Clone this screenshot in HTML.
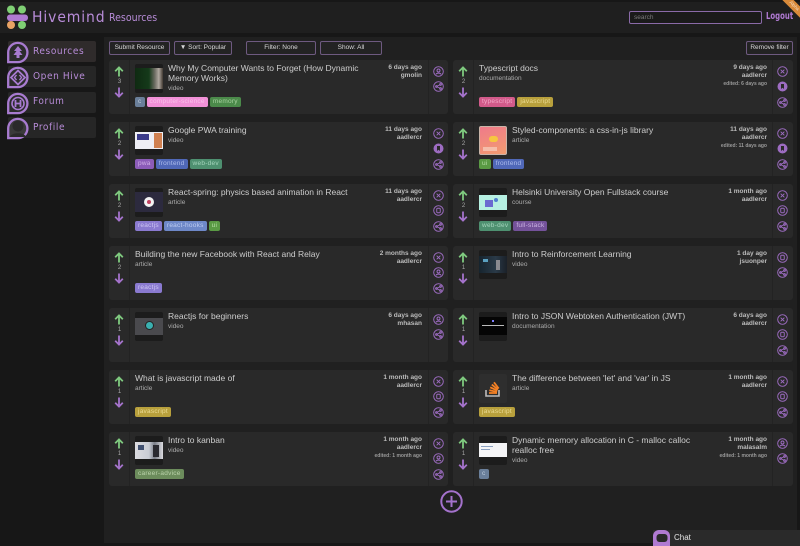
<!DOCTYPE html>
<html><head><meta charset="utf-8">
<style>
*{margin:0;padding:0;box-sizing:border-box}
body{width:800px;height:546px;overflow:hidden;background:#171717;font-family:"Liberation Sans",sans-serif;position:relative}
.a{position:absolute}
.cond{font-family:"DejaVu Sans Condensed","DejaVu Sans",sans-serif}
#hdr{position:absolute;left:0;top:2px;width:800px;height:31px;background:#1f1f1f}
#main{position:absolute;left:104px;top:37px;width:693px;height:506px;background:#202020}
.side{position:absolute;left:8px;width:88px;height:21px;background:#262626;border-radius:2px}
.side.act{background:#2f2b2b}
.slab{position:absolute;left:33px;font-size:10px;letter-spacing:0.6px;color:#b88cd8;line-height:12px}
.sico{position:absolute;left:6px}
.btn{position:absolute;top:41px;height:14px;border:1px solid #6e5a80;background:#232323;border-radius:2px;color:#d8d8d8;font-size:6.5px;line-height:12px;text-align:center;white-space:nowrap}
.card{position:absolute;height:54px;background:#292929;border-radius:3px;overflow:hidden}
.card.L{width:339px}
.card.R{width:340px}
.vote{position:absolute;left:0;top:0;width:21px;height:54px;border-right:1px solid #232323}
.up{position:absolute;left:5px;top:6px}
.dn{position:absolute;left:5px;top:27px}
.num{position:absolute;left:0;width:21px;top:19px;font-size:6px;line-height:6px;text-align:center;color:#a8a8a8}
.acts{position:absolute;top:0;height:54px;left:319px;border-left:1px solid #232323}
.L .acts{width:20px}
.R .acts{width:21px}
.acts svg{position:absolute;left:4px}
.i1{top:5.5px}.i2{top:21px}.i3{top:36.5px}
.thumb{position:absolute;left:26px;top:4px;width:28px;height:29px;background:#1c1c1c;border-radius:2px;overflow:hidden}
.thumb div{position:absolute}
.body{position:absolute;top:4px;white-space:nowrap}
.t{font-size:8.5px;line-height:9.5px;color:#cdcdcd}
.ty{font-size:6.5px;line-height:8px;margin-top:1.5px;color:#ababab}
.meta{position:absolute;right:26px;top:4px;text-align:right;font-size:6.5px;font-weight:bold;line-height:8px;color:#bcbcbc;white-space:nowrap}
.meta .ed{font-size:5px;font-weight:bold;color:#9a9a9a}
.tags{position:absolute;left:26px;top:37px;white-space:nowrap;font-size:0}
.tag{display:inline-block;height:10px;line-height:10px;padding:0 3px;font-size:6.5px;letter-spacing:0.25px;border-radius:2px;margin-right:2px;vertical-align:top}
.c{background:#6a7f9a;color:#bccbdb}
.cs{background:#f291d8;color:#f9c0ea}
.mem{background:#4b8a4a;color:#a8d0a0}
.ts{background:#d25a8a;color:#f2aac9}
.js{background:#b8a03c;color:#ebdb94}
.pwa{background:#8c5cb8;color:#cfaee6}
.fe{background:#5068b8;color:#adbcec}
.wd{background:#4e9070;color:#a4d4bc}
.ui{background:#5a9a44;color:#b4dca4}
.rj{background:#8a7ad0;color:#cdc4f2}
.rh{background:#6e88c8;color:#bccbf0}
.fs{background:#74529a;color:#cbb3e2}
.ca{background:#6c8c5c;color:#bad2aa}
</style></head><body>

<div id="hdr"></div>
<!-- logo -->
<svg class="a" style="left:0;top:0" width="32" height="33" viewBox="0 0 32 33">
<circle cx="11" cy="9.5" r="4" fill="#7fcf74"/>
<circle cx="22" cy="9.5" r="4" fill="#7fcf74"/>
<rect x="7" y="14.5" width="21" height="6.5" rx="3" fill="#b07ad2"/>
<circle cx="11" cy="25" r="4" fill="#e8a264"/>
<circle cx="22" cy="25" r="4" fill="#7fcf74"/>
</svg>
<div class="a cond" style="left:32px;top:7px;font-size:15.5px;line-height:20px;color:#b88cd8;letter-spacing:0.9px">Hivemind</div>
<div class="a cond" style="left:109px;top:11px;font-size:10.5px;line-height:14px;color:#b88cd8">Resources</div>
<div class="a" style="left:629px;top:11px;width:133px;height:13px;border:1px solid #8a6aa8;border-radius:2px;background:#1a1a1a;font-size:6.5px;line-height:11px;color:#7a7a7a;padding-left:4px">search</div>
<div class="a cond" style="left:766px;top:10px;font-size:10px;line-height:14px;color:#b07ad2;font-weight:bold;transform:scaleX(0.77);transform-origin:0 0;white-space:nowrap">Logout</div>
<div class="a" style="left:774px;top:2px;width:40px;height:8px;background:#d98a3a;transform:rotate(45deg);font-size:4.5px;line-height:8px;text-align:center;color:#f6dcc0">Alpha</div>

<!-- sidebar -->
<div class="side act" style="top:41px"></div>
<div class="side" style="top:66px"></div>
<div class="side" style="top:92px"></div>
<div class="side" style="top:117px"></div>

<svg class="sico" style="top:41px" width="24" height="23" viewBox="0 0 24 23"><path d="M2.2 11.5A9.6 9.6 0 1 1 11.8 21.1L2.2 21.1Z" fill="#2c2c2c" stroke="#a87bd0" stroke-width="2.3"/><path d="M12 5L8 10h2.5L7.5 14h3v3h3v-3h3L13.5 10H16Z" fill="#a87bd0"/></svg>
<svg class="sico" style="top:66px" width="24" height="23" viewBox="0 0 24 23"><path d="M2.2 11.5A9.6 9.6 0 1 1 11.8 21.1L2.2 21.1Z" fill="#2c2c2c" stroke="#a87bd0" stroke-width="2.3"/><path d="M12 4.5L19 11.5L12 18.5L5 11.5Z" fill="none" stroke="#a87bd0" stroke-width="1.8"/><path d="M10.5 9L8.5 11.5L10.5 14M13.5 9L15.5 11.5L13.5 14" fill="none" stroke="#a87bd0" stroke-width="1.4"/></svg>
<svg class="sico" style="top:92px" width="24" height="23" viewBox="0 0 24 23"><path d="M2.2 11.5A9.6 9.6 0 1 1 11.8 21.1L2.2 21.1Z" fill="#2c2c2c" stroke="#a87bd0" stroke-width="2.3"/><circle cx="12" cy="11.5" r="6" fill="none" stroke="#a87bd0" stroke-width="1.6"/><path d="M9.5 8v7M14.5 8v7M9.5 11.5h5" stroke="#a87bd0" stroke-width="1.8"/></svg>
<svg class="sico" style="top:117px" width="24" height="23" viewBox="0 0 24 23"><path d="M2.2 11.5A9.6 9.6 0 1 1 11.8 21.1L2.2 21.1Z" fill="#3a3a3a" stroke="#a87bd0" stroke-width="2.3"/><circle cx="12" cy="9" r="5.5" fill="#2a2a2a"/><path d="M4 20c1-5 15-5 16 0Z" fill="#2a2a2a"/></svg>

<div class="slab cond" style="top:46px">Resources</div>
<div class="slab cond" style="top:71px">Open Hive</div>
<div class="slab cond" style="top:96px">Forum</div>
<div class="slab cond" style="top:122px">Profile</div>

<!-- main -->
<div id="main"></div>
<div class="btn" style="left:109px;width:61px">Submit Resource</div>
<div class="btn" style="left:174px;width:58px">▼ Sort: Popular</div>
<div class="btn" style="left:246px;width:70px">Filter: None</div>
<div class="btn" style="left:320px;width:62px">Show: All</div>
<div class="btn" style="left:746px;width:47px">Remove filter</div>

<!-- Row 1 -->
<div class="card L" style="left:109px;top:60px">
 <div class="vote"><svg class="up" width="10" height="11" viewBox="0 0 10 11"><path d="M5 10.5V1.5M1.2 5.2L5 1.4L8.8 5.2" stroke="#7fca7f" stroke-width="1.8" fill="none"/></svg><div class="num">3</div><svg class="dn" width="10" height="11" viewBox="0 0 10 11"><path d="M5 0.5V9.5M1.2 5.8L5 9.6L8.8 5.8" stroke="#a573cc" stroke-width="1.8" fill="none"/></svg></div>
 <div class="thumb"><div style="left:0;top:4px;width:28px;height:21px;background:linear-gradient(90deg,#0f2a12 0%,#153a1a 50%,#6a6a60 70%,#b0a8a0 85%,#403830 100%)"></div></div>
 <div class="body" style="left:59px"><div class="t">Why My Computer Wants to Forget (How Dynamic<br>Memory Works)</div><div class="ty">video</div></div>
 <div class="meta">6 days ago<br>gmolin</div>
 <div class="tags"><span class="tag c">c</span><span class="tag cs">computer-science</span><span class="tag mem">memory</span></div>
 <div class="acts">
  <svg class="i1" width="11" height="11" viewBox="0 0 22 22"><g fill="none" stroke="#9d6cc2" stroke-width="1.9"><circle cx="11" cy="11" r="9.6"/><circle cx="11" cy="9" r="3"/><path d="M6 16.5c1.5-3 8.5-3 10 0"/></g></svg>
  <svg class="i2" width="11" height="11" viewBox="0 0 22 22"><g fill="none" stroke="#9d6cc2" stroke-width="1.9"><circle cx="11" cy="11" r="9.6"/><circle cx="7" cy="11" r="1.8"/><circle cx="15" cy="7" r="1.8"/><circle cx="15" cy="15" r="1.8"/><path d="M7 11L15 7M7 11L15 15"/></g></svg>
 </div>
</div>

<div class="card R" style="left:453px;top:60px">
 <div class="vote"><svg class="up" width="10" height="11" viewBox="0 0 10 11"><path d="M5 10.5V1.5M1.2 5.2L5 1.4L8.8 5.2" stroke="#7fca7f" stroke-width="1.8" fill="none"/></svg><div class="num">2</div><svg class="dn" width="10" height="11" viewBox="0 0 10 11"><path d="M5 0.5V9.5M1.2 5.8L5 9.6L8.8 5.8" stroke="#a573cc" stroke-width="1.8" fill="none"/></svg></div>
 <div class="body" style="left:26px"><div class="t">Typescript docs</div><div class="ty">documentation</div></div>
 <div class="meta">9 days ago<br>aadlercr<br><span class="ed">edited: 6 days ago</span></div>
 <div class="tags"><span class="tag ts">typescript</span><span class="tag js">javascript</span></div>
 <div class="acts">
  <svg class="i1" width="11" height="11" viewBox="0 0 22 22"><g fill="none" stroke="#9d6cc2" stroke-width="1.9"><circle cx="11" cy="11" r="9.6"/><path d="M7.3 7.3L14.7 14.7M14.7 7.3L7.3 14.7"/></g></svg>
  <svg class="i2" width="11" height="11" viewBox="0 0 22 22"><circle cx="11" cy="11" r="10" fill="#9d6cc2"/><path d="M8 6h6v10l-3-2.5L8 16Z" fill="#2a2a2a"/></svg>
  <svg class="i3" width="11" height="11" viewBox="0 0 22 22"><g fill="none" stroke="#9d6cc2" stroke-width="1.9"><circle cx="11" cy="11" r="9.6"/><circle cx="7" cy="11" r="1.8"/><circle cx="15" cy="7" r="1.8"/><circle cx="15" cy="15" r="1.8"/><path d="M7 11L15 7M7 11L15 15"/></g></svg>
 </div>
</div>

<!-- Row 2 -->
<div class="card L" style="left:109px;top:122px">
 <div class="vote"><svg class="up" width="10" height="11" viewBox="0 0 10 11"><path d="M5 10.5V1.5M1.2 5.2L5 1.4L8.8 5.2" stroke="#7fca7f" stroke-width="1.8" fill="none"/></svg><div class="num">2</div><svg class="dn" width="10" height="11" viewBox="0 0 10 11"><path d="M5 0.5V9.5M1.2 5.8L5 9.6L8.8 5.8" stroke="#a573cc" stroke-width="1.8" fill="none"/></svg></div>
 <div class="thumb"><div style="left:0;top:6px;width:28px;height:17px;background:#eeeef4"></div><div style="left:2px;top:8px;width:12px;height:6px;background:#3a3a8a"></div><div style="left:19px;top:7px;width:8px;height:15px;background:#d08050"></div></div>
 <div class="body" style="left:59px"><div class="t">Google PWA training</div><div class="ty">video</div></div>
 <div class="meta">11 days ago<br>aadlercr</div>
 <div class="tags"><span class="tag pwa">pwa</span><span class="tag fe">frontend</span><span class="tag wd">web-dev</span></div>
 <div class="acts">
  <svg class="i1" width="11" height="11" viewBox="0 0 22 22"><g fill="none" stroke="#9d6cc2" stroke-width="1.9"><circle cx="11" cy="11" r="9.6"/><path d="M7.3 7.3L14.7 14.7M14.7 7.3L7.3 14.7"/></g></svg>
  <svg class="i2" width="11" height="11" viewBox="0 0 22 22"><circle cx="11" cy="11" r="10" fill="#9d6cc2"/><path d="M8 6h6v10l-3-2.5L8 16Z" fill="#2a2a2a"/></svg>
  <svg class="i3" width="11" height="11" viewBox="0 0 22 22"><g fill="none" stroke="#9d6cc2" stroke-width="1.9"><circle cx="11" cy="11" r="9.6"/><circle cx="7" cy="11" r="1.8"/><circle cx="15" cy="7" r="1.8"/><circle cx="15" cy="15" r="1.8"/><path d="M7 11L15 7M7 11L15 15"/></g></svg>
 </div>
</div>

<div class="card R" style="left:453px;top:122px">
 <div class="vote"><svg class="up" width="10" height="11" viewBox="0 0 10 11"><path d="M5 10.5V1.5M1.2 5.2L5 1.4L8.8 5.2" stroke="#7fca7f" stroke-width="1.8" fill="none"/></svg><div class="num">2</div><svg class="dn" width="10" height="11" viewBox="0 0 10 11"><path d="M5 0.5V9.5M1.2 5.8L5 9.6L8.8 5.8" stroke="#a573cc" stroke-width="1.8" fill="none"/></svg></div>
 <div class="thumb" style="background:linear-gradient(160deg,#f07a8a,#f29c70);border:1px solid #c9b4a8"><div style="left:9px;top:9px;width:9px;height:6px;background:#f6c640;border-radius:4px"></div><div style="left:3px;top:20px;width:14px;height:4px;background:#f7d0c0;opacity:.7"></div></div>
 <div class="body" style="left:59px"><div class="t">Styled-components: a css-in-js library</div><div class="ty">article</div></div>
 <div class="meta">11 days ago<br>aadlercr<br><span class="ed">edited: 11 days ago</span></div>
 <div class="tags"><span class="tag ui">ui</span><span class="tag fe">frontend</span></div>
 <div class="acts">
  <svg class="i1" width="11" height="11" viewBox="0 0 22 22"><g fill="none" stroke="#9d6cc2" stroke-width="1.9"><circle cx="11" cy="11" r="9.6"/><path d="M7.3 7.3L14.7 14.7M14.7 7.3L7.3 14.7"/></g></svg>
  <svg class="i2" width="11" height="11" viewBox="0 0 22 22"><circle cx="11" cy="11" r="10" fill="#9d6cc2"/><path d="M8 6h6v10l-3-2.5L8 16Z" fill="#2a2a2a"/></svg>
  <svg class="i3" width="11" height="11" viewBox="0 0 22 22"><g fill="none" stroke="#9d6cc2" stroke-width="1.9"><circle cx="11" cy="11" r="9.6"/><circle cx="7" cy="11" r="1.8"/><circle cx="15" cy="7" r="1.8"/><circle cx="15" cy="15" r="1.8"/><path d="M7 11L15 7M7 11L15 15"/></g></svg>
 </div>
</div>

<!-- Row 3 -->
<div class="card L" style="left:109px;top:184px">
 <div class="vote"><svg class="up" width="10" height="11" viewBox="0 0 10 11"><path d="M5 10.5V1.5M1.2 5.2L5 1.4L8.8 5.2" stroke="#7fca7f" stroke-width="1.8" fill="none"/></svg><div class="num">2</div><svg class="dn" width="10" height="11" viewBox="0 0 10 11"><path d="M5 0.5V9.5M1.2 5.8L5 9.6L8.8 5.8" stroke="#a573cc" stroke-width="1.8" fill="none"/></svg></div>
 <div class="thumb"><div style="left:0;top:4px;width:28px;height:20px;background:#2c2a3e"></div><div style="left:9px;top:9px;width:10px;height:10px;background:#f2f2f2;border-radius:50%"></div><div style="left:12px;top:12px;width:4px;height:4px;background:#c04060;border-radius:50%"></div></div>
 <div class="body" style="left:59px"><div class="t">React-spring: physics based animation in React</div><div class="ty">article</div></div>
 <div class="meta">11 days ago<br>aadlercr</div>
 <div class="tags"><span class="tag rj">reactjs</span><span class="tag rh">react-hooks</span><span class="tag ui">ui</span></div>
 <div class="acts">
  <svg class="i1" width="11" height="11" viewBox="0 0 22 22"><g fill="none" stroke="#9d6cc2" stroke-width="1.9"><circle cx="11" cy="11" r="9.6"/><path d="M7.3 7.3L14.7 14.7M14.7 7.3L7.3 14.7"/></g></svg>
  <svg class="i2" width="11" height="11" viewBox="0 0 22 22"><g fill="none" stroke="#9d6cc2" stroke-width="1.9"><circle cx="11" cy="11" r="9.6"/><rect x="7.5" y="6.5" width="7" height="9" rx="1.5"/></g></svg>
  <svg class="i3" width="11" height="11" viewBox="0 0 22 22"><g fill="none" stroke="#9d6cc2" stroke-width="1.9"><circle cx="11" cy="11" r="9.6"/><circle cx="7" cy="11" r="1.8"/><circle cx="15" cy="7" r="1.8"/><circle cx="15" cy="15" r="1.8"/><path d="M7 11L15 7M7 11L15 15"/></g></svg>
 </div>
</div>

<div class="card R" style="left:453px;top:184px">
 <div class="vote"><svg class="up" width="10" height="11" viewBox="0 0 10 11"><path d="M5 10.5V1.5M1.2 5.2L5 1.4L8.8 5.2" stroke="#7fca7f" stroke-width="1.8" fill="none"/></svg><div class="num">2</div><svg class="dn" width="10" height="11" viewBox="0 0 10 11"><path d="M5 0.5V9.5M1.2 5.8L5 9.6L8.8 5.8" stroke="#a573cc" stroke-width="1.8" fill="none"/></svg></div>
 <div class="thumb"><div style="left:0;top:7px;width:28px;height:15px;background:#b6f0e2"></div><div style="left:6px;top:12px;width:8px;height:7px;background:#6a6ad0"></div><div style="left:15px;top:10px;width:4px;height:4px;background:#5080d0;border-radius:50%"></div></div>
 <div class="body" style="left:59px"><div class="t">Helsinki University Open Fullstack course</div><div class="ty">course</div></div>
 <div class="meta">1 month ago<br>aadlercr</div>
 <div class="tags"><span class="tag wd">web-dev</span><span class="tag fs">full-stack</span></div>
 <div class="acts">
  <svg class="i1" width="11" height="11" viewBox="0 0 22 22"><g fill="none" stroke="#9d6cc2" stroke-width="1.9"><circle cx="11" cy="11" r="9.6"/><path d="M7.3 7.3L14.7 14.7M14.7 7.3L7.3 14.7"/></g></svg>
  <svg class="i2" width="11" height="11" viewBox="0 0 22 22"><g fill="none" stroke="#9d6cc2" stroke-width="1.9"><circle cx="11" cy="11" r="9.6"/><rect x="7.5" y="6.5" width="7" height="9" rx="1.5"/></g></svg>
  <svg class="i3" width="11" height="11" viewBox="0 0 22 22"><g fill="none" stroke="#9d6cc2" stroke-width="1.9"><circle cx="11" cy="11" r="9.6"/><circle cx="7" cy="11" r="1.8"/><circle cx="15" cy="7" r="1.8"/><circle cx="15" cy="15" r="1.8"/><path d="M7 11L15 7M7 11L15 15"/></g></svg>
 </div>
</div>

<!-- Row 4 -->
<div class="card L" style="left:109px;top:246px">
 <div class="vote"><svg class="up" width="10" height="11" viewBox="0 0 10 11"><path d="M5 10.5V1.5M1.2 5.2L5 1.4L8.8 5.2" stroke="#7fca7f" stroke-width="1.8" fill="none"/></svg><div class="num">2</div><svg class="dn" width="10" height="11" viewBox="0 0 10 11"><path d="M5 0.5V9.5M1.2 5.8L5 9.6L8.8 5.8" stroke="#a573cc" stroke-width="1.8" fill="none"/></svg></div>
 <div class="body" style="left:26px"><div class="t">Building the new Facebook with React and Relay</div><div class="ty">article</div></div>
 <div class="meta">2 months ago<br>aadlercr</div>
 <div class="tags"><span class="tag rj">reactjs</span></div>
 <div class="acts">
  <svg class="i1" width="11" height="11" viewBox="0 0 22 22"><g fill="none" stroke="#9d6cc2" stroke-width="1.9"><circle cx="11" cy="11" r="9.6"/><path d="M7.3 7.3L14.7 14.7M14.7 7.3L7.3 14.7"/></g></svg>
  <svg class="i2" width="11" height="11" viewBox="0 0 22 22"><g fill="none" stroke="#9d6cc2" stroke-width="1.9"><circle cx="11" cy="11" r="9.6"/><circle cx="11" cy="9" r="3"/><path d="M6 16.5c1.5-3 8.5-3 10 0"/></g></svg>
  <svg class="i3" width="11" height="11" viewBox="0 0 22 22"><g fill="none" stroke="#9d6cc2" stroke-width="1.9"><circle cx="11" cy="11" r="9.6"/><circle cx="7" cy="11" r="1.8"/><circle cx="15" cy="7" r="1.8"/><circle cx="15" cy="15" r="1.8"/><path d="M7 11L15 7M7 11L15 15"/></g></svg>
 </div>
</div>

<div class="card R" style="left:453px;top:246px">
 <div class="vote"><svg class="up" width="10" height="11" viewBox="0 0 10 11"><path d="M5 10.5V1.5M1.2 5.2L5 1.4L8.8 5.2" stroke="#7fca7f" stroke-width="1.8" fill="none"/></svg><div class="num">1</div><svg class="dn" width="10" height="11" viewBox="0 0 10 11"><path d="M5 0.5V9.5M1.2 5.8L5 9.6L8.8 5.8" stroke="#a573cc" stroke-width="1.8" fill="none"/></svg></div>
 <div class="thumb"><div style="left:0;top:6px;width:28px;height:17px;background:linear-gradient(90deg,#16242e,#2a3a48 60%,#1a2028)"></div><div style="left:4px;top:9px;width:5px;height:3px;background:#5aa0c0"></div><div style="left:17px;top:10px;width:4px;height:10px;background:#8a8a90"></div></div>
 <div class="body" style="left:59px"><div class="t">Intro to Reinforcement Learning</div><div class="ty">video</div></div>
 <div class="meta">1 day ago<br>jsuonper</div>
 <div class="acts">
  <svg class="i1" width="11" height="11" viewBox="0 0 22 22"><g fill="none" stroke="#9d6cc2" stroke-width="1.9"><circle cx="11" cy="11" r="9.6"/><rect x="7.5" y="6.5" width="7" height="9" rx="1.5"/></g></svg>
  <svg class="i2" width="11" height="11" viewBox="0 0 22 22"><g fill="none" stroke="#9d6cc2" stroke-width="1.9"><circle cx="11" cy="11" r="9.6"/><circle cx="7" cy="11" r="1.8"/><circle cx="15" cy="7" r="1.8"/><circle cx="15" cy="15" r="1.8"/><path d="M7 11L15 7M7 11L15 15"/></g></svg>
 </div>
</div>

<!-- Row 5 -->
<div class="card L" style="left:109px;top:308px">
 <div class="vote"><svg class="up" width="10" height="11" viewBox="0 0 10 11"><path d="M5 10.5V1.5M1.2 5.2L5 1.4L8.8 5.2" stroke="#7fca7f" stroke-width="1.8" fill="none"/></svg><div class="num">1</div><svg class="dn" width="10" height="11" viewBox="0 0 10 11"><path d="M5 0.5V9.5M1.2 5.8L5 9.6L8.8 5.8" stroke="#a573cc" stroke-width="1.8" fill="none"/></svg></div>
 <div class="thumb"><div style="left:0;top:6px;width:28px;height:17px;background:#4a4a4e"></div><div style="left:10px;top:9px;width:9px;height:9px;border:1.5px solid #222;background:#3ab0b0;border-radius:50%"></div></div>
 <div class="body" style="left:59px"><div class="t">Reactjs for beginners</div><div class="ty">video</div></div>
 <div class="meta">6 days ago<br>mhasan</div>
 <div class="acts">
  <svg class="i1" width="11" height="11" viewBox="0 0 22 22"><g fill="none" stroke="#9d6cc2" stroke-width="1.9"><circle cx="11" cy="11" r="9.6"/><circle cx="11" cy="9" r="3"/><path d="M6 16.5c1.5-3 8.5-3 10 0"/></g></svg>
  <svg class="i2" width="11" height="11" viewBox="0 0 22 22"><g fill="none" stroke="#9d6cc2" stroke-width="1.9"><circle cx="11" cy="11" r="9.6"/><circle cx="7" cy="11" r="1.8"/><circle cx="15" cy="7" r="1.8"/><circle cx="15" cy="15" r="1.8"/><path d="M7 11L15 7M7 11L15 15"/></g></svg>
 </div>
</div>

<div class="card R" style="left:453px;top:308px">
 <div class="vote"><svg class="up" width="10" height="11" viewBox="0 0 10 11"><path d="M5 10.5V1.5M1.2 5.2L5 1.4L8.8 5.2" stroke="#7fca7f" stroke-width="1.8" fill="none"/></svg><div class="num">1</div><svg class="dn" width="10" height="11" viewBox="0 0 10 11"><path d="M5 0.5V9.5M1.2 5.8L5 9.6L8.8 5.8" stroke="#a573cc" stroke-width="1.8" fill="none"/></svg></div>
 <div class="thumb"><div style="left:0;top:5px;width:28px;height:18px;background:#050505"></div><div style="left:13px;top:8px;width:2px;height:2px;background:#8080ff"></div><div style="left:3px;top:13px;width:22px;height:1px;background:#bbbbbb"></div></div>
 <div class="body" style="left:59px"><div class="t">Intro to JSON Webtoken Authentication (JWT)</div><div class="ty">documentation</div></div>
 <div class="meta">6 days ago<br>aadlercr</div>
 <div class="acts">
  <svg class="i1" width="11" height="11" viewBox="0 0 22 22"><g fill="none" stroke="#9d6cc2" stroke-width="1.9"><circle cx="11" cy="11" r="9.6"/><path d="M7.3 7.3L14.7 14.7M14.7 7.3L7.3 14.7"/></g></svg>
  <svg class="i2" width="11" height="11" viewBox="0 0 22 22"><g fill="none" stroke="#9d6cc2" stroke-width="1.9"><circle cx="11" cy="11" r="9.6"/><rect x="7.5" y="6.5" width="7" height="9" rx="1.5"/></g></svg>
  <svg class="i3" width="11" height="11" viewBox="0 0 22 22"><g fill="none" stroke="#9d6cc2" stroke-width="1.9"><circle cx="11" cy="11" r="9.6"/><circle cx="7" cy="11" r="1.8"/><circle cx="15" cy="7" r="1.8"/><circle cx="15" cy="15" r="1.8"/><path d="M7 11L15 7M7 11L15 15"/></g></svg>
 </div>
</div>

<!-- Row 6 -->
<div class="card L" style="left:109px;top:370px">
 <div class="vote"><svg class="up" width="10" height="11" viewBox="0 0 10 11"><path d="M5 10.5V1.5M1.2 5.2L5 1.4L8.8 5.2" stroke="#7fca7f" stroke-width="1.8" fill="none"/></svg><div class="num">1</div><svg class="dn" width="10" height="11" viewBox="0 0 10 11"><path d="M5 0.5V9.5M1.2 5.8L5 9.6L8.8 5.8" stroke="#a573cc" stroke-width="1.8" fill="none"/></svg></div>
 <div class="body" style="left:26px"><div class="t">What is javascript made of</div><div class="ty">article</div></div>
 <div class="meta">1 month ago<br>aadlercr</div>
 <div class="tags"><span class="tag js">javascript</span></div>
 <div class="acts">
  <svg class="i1" width="11" height="11" viewBox="0 0 22 22"><g fill="none" stroke="#9d6cc2" stroke-width="1.9"><circle cx="11" cy="11" r="9.6"/><path d="M7.3 7.3L14.7 14.7M14.7 7.3L7.3 14.7"/></g></svg>
  <svg class="i2" width="11" height="11" viewBox="0 0 22 22"><g fill="none" stroke="#9d6cc2" stroke-width="1.9"><circle cx="11" cy="11" r="9.6"/><rect x="7.5" y="6.5" width="7" height="9" rx="1.5"/></g></svg>
  <svg class="i3" width="11" height="11" viewBox="0 0 22 22"><g fill="none" stroke="#9d6cc2" stroke-width="1.9"><circle cx="11" cy="11" r="9.6"/><circle cx="7" cy="11" r="1.8"/><circle cx="15" cy="7" r="1.8"/><circle cx="15" cy="15" r="1.8"/><path d="M7 11L15 7M7 11L15 15"/></g></svg>
 </div>
</div>

<div class="card R" style="left:453px;top:370px">
 <div class="vote"><svg class="up" width="10" height="11" viewBox="0 0 10 11"><path d="M5 10.5V1.5M1.2 5.2L5 1.4L8.8 5.2" stroke="#7fca7f" stroke-width="1.8" fill="none"/></svg><div class="num">1</div><svg class="dn" width="10" height="11" viewBox="0 0 10 11"><path d="M5 0.5V9.5M1.2 5.8L5 9.6L8.8 5.8" stroke="#a573cc" stroke-width="1.8" fill="none"/></svg></div>
 <div class="thumb" style="background:#2e2e2e">
  <svg style="position:absolute;left:4px;top:4px" width="20" height="20" viewBox="0 0 20 20"><path d="M3 12v6h13v-6" fill="none" stroke="#bcbbbb" stroke-width="1.6"/><g stroke="#f48024" stroke-width="1.8"><path d="M6 15h8"/><path d="M6.3 12.3l7.8 1.6"/><path d="M7.2 9.3l7.2 3.3"/><path d="M8.8 6.6l6.2 4.9"/><path d="M11 4.3l4.7 6.2"/></g></svg>
 </div>
 <div class="body" style="left:59px"><div class="t">The difference between 'let' and 'var' in JS</div><div class="ty">article</div></div>
 <div class="meta">1 month ago<br>aadlercr</div>
 <div class="tags"><span class="tag js">javascript</span></div>
 <div class="acts">
  <svg class="i1" width="11" height="11" viewBox="0 0 22 22"><g fill="none" stroke="#9d6cc2" stroke-width="1.9"><circle cx="11" cy="11" r="9.6"/><path d="M7.3 7.3L14.7 14.7M14.7 7.3L7.3 14.7"/></g></svg>
  <svg class="i2" width="11" height="11" viewBox="0 0 22 22"><g fill="none" stroke="#9d6cc2" stroke-width="1.9"><circle cx="11" cy="11" r="9.6"/><rect x="7.5" y="6.5" width="7" height="9" rx="1.5"/></g></svg>
  <svg class="i3" width="11" height="11" viewBox="0 0 22 22"><g fill="none" stroke="#9d6cc2" stroke-width="1.9"><circle cx="11" cy="11" r="9.6"/><circle cx="7" cy="11" r="1.8"/><circle cx="15" cy="7" r="1.8"/><circle cx="15" cy="15" r="1.8"/><path d="M7 11L15 7M7 11L15 15"/></g></svg>
 </div>
</div>

<!-- Row 7 -->
<div class="card L" style="left:109px;top:432px">
 <div class="vote"><svg class="up" width="10" height="11" viewBox="0 0 10 11"><path d="M5 10.5V1.5M1.2 5.2L5 1.4L8.8 5.2" stroke="#7fca7f" stroke-width="1.8" fill="none"/></svg><div class="num">1</div><svg class="dn" width="10" height="11" viewBox="0 0 10 11"><path d="M5 0.5V9.5M1.2 5.8L5 9.6L8.8 5.8" stroke="#a573cc" stroke-width="1.8" fill="none"/></svg></div>
 <div class="thumb"><div style="left:0;top:6px;width:28px;height:17px;background:linear-gradient(90deg,#dcdce0,#c8ccd4 50%,#7a7e88 70%,#dcdce0)"></div><div style="left:3px;top:9px;width:6px;height:5px;background:#405070"></div><div style="left:18px;top:9px;width:6px;height:12px;background:#2a2a30"></div></div>
 <div class="body" style="left:59px"><div class="t">Intro to kanban</div><div class="ty">video</div></div>
 <div class="meta">1 month ago<br>aadlercr<br><span class="ed">edited: 1 month ago</span></div>
 <div class="tags"><span class="tag ca">career-advice</span></div>
 <div class="acts">
  <svg class="i1" width="11" height="11" viewBox="0 0 22 22"><g fill="none" stroke="#9d6cc2" stroke-width="1.9"><circle cx="11" cy="11" r="9.6"/><path d="M7.3 7.3L14.7 14.7M14.7 7.3L7.3 14.7"/></g></svg>
  <svg class="i2" width="11" height="11" viewBox="0 0 22 22"><g fill="none" stroke="#9d6cc2" stroke-width="1.9"><circle cx="11" cy="11" r="9.6"/><circle cx="11" cy="9" r="3"/><path d="M6 16.5c1.5-3 8.5-3 10 0"/></g></svg>
  <svg class="i3" width="11" height="11" viewBox="0 0 22 22"><g fill="none" stroke="#9d6cc2" stroke-width="1.9"><circle cx="11" cy="11" r="9.6"/><circle cx="7" cy="11" r="1.8"/><circle cx="15" cy="7" r="1.8"/><circle cx="15" cy="15" r="1.8"/><path d="M7 11L15 7M7 11L15 15"/></g></svg>
 </div>
</div>

<div class="card R" style="left:453px;top:432px">
 <div class="vote"><svg class="up" width="10" height="11" viewBox="0 0 10 11"><path d="M5 10.5V1.5M1.2 5.2L5 1.4L8.8 5.2" stroke="#7fca7f" stroke-width="1.8" fill="none"/></svg><div class="num">1</div><svg class="dn" width="10" height="11" viewBox="0 0 10 11"><path d="M5 0.5V9.5M1.2 5.8L5 9.6L8.8 5.8" stroke="#a573cc" stroke-width="1.8" fill="none"/></svg></div>
 <div class="thumb"><div style="left:0;top:7px;width:28px;height:14px;background:#f4f4f6"></div><div style="left:2px;top:10px;width:12px;height:1px;background:#8aa0c0"></div><div style="left:2px;top:13px;width:9px;height:1px;background:#8aa0c0"></div></div>
 <div class="body" style="left:59px"><div class="t">Dynamic memory allocation in C - malloc calloc<br>realloc free</div><div class="ty">video</div></div>
 <div class="meta">1 month ago<br>malasalm<br><span class="ed">edited: 1 month ago</span></div>
 <div class="tags"><span class="tag c">c</span></div>
 <div class="acts">
  <svg class="i1" width="11" height="11" viewBox="0 0 22 22"><g fill="none" stroke="#9d6cc2" stroke-width="1.9"><circle cx="11" cy="11" r="9.6"/><circle cx="11" cy="9" r="3"/><path d="M6 16.5c1.5-3 8.5-3 10 0"/></g></svg>
  <svg class="i2" width="11" height="11" viewBox="0 0 22 22"><g fill="none" stroke="#9d6cc2" stroke-width="1.9"><circle cx="11" cy="11" r="9.6"/><circle cx="7" cy="11" r="1.8"/><circle cx="15" cy="7" r="1.8"/><circle cx="15" cy="15" r="1.8"/><path d="M7 11L15 7M7 11L15 15"/></g></svg>
 </div>
</div>

<!-- plus button -->
<svg class="a" style="left:440px;top:490px" width="23" height="23" viewBox="0 0 23 23"><circle cx="11.5" cy="11.5" r="10.2" fill="none" stroke="#a472cc" stroke-width="2"/><path d="M11.5 6v11M6 11.5h11" stroke="#a472cc" stroke-width="2"/></svg>

<!-- chat -->
<div class="a" style="left:653px;top:530px;width:147px;height:16px;background:#2a2a2a"></div>
<svg class="a" style="left:653px;top:530px" width="17" height="16" viewBox="0 0 17 16"><path d="M0 16V6A6 6 0 0 1 6 0H11A6 6 0 0 1 17 6V16Z" fill="#b07ad2"/><rect x="3.5" y="4" width="11" height="8" rx="3" fill="#2a2a2a"/></svg>
<div class="a" style="left:674px;top:533px;font-size:8px;line-height:10px;color:#e4e4e4">Chat</div>

</body></html>
